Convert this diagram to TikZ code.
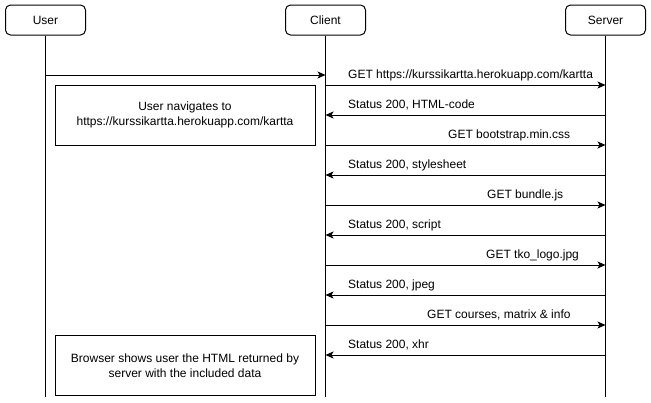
\documentclass[tikz,border=0pt]{standalone}
\usepackage{fontspec}
\setmainfont{Liberation Sans}
\usetikzlibrary{arrows.meta,positioning}
\tikzset{
  actor/.style={
      rectangle,
      draw,
      line width=1pt,
      rounded corners=5pt,
      minimum width=80pt,
      minimum height=30pt,
      inner sep=0pt
  },
  note/.style={
      rectangle,
      draw,
      line width=1pt,
      minimum width=260pt,
      minimum height=60pt,
      inner sep=0pt,
      align=center
  },
  msg/.style={-{Stealth[length=8pt,width=7pt,inset=2pt]}, line width=1pt},
  lbl/.style={anchor=base west, inner sep=0pt}
}

\begin{document}
\begin{tikzpicture}[x=1pt,y=-1pt,font=\fontsize{12}{15}\selectfont]
    \useasboundingbox (0,0) rectangle (651,402);
    % heads
    \node[actor] (user) at (45.5,20) {User};
    \node[actor] (client) at (325.5,20) {Client};
    \node[actor] (server) at (605.5,20) {Server};
    \coordinate (uend) at (45.5,397);
    \coordinate (cend) at (325.5,397);
    \coordinate (send) at (605.5,397);
    \draw[line width=1pt] (user) -- (uend);
    \draw[line width=1pt] (client) -- (cend);
    \draw[line width=1pt] (server) -- (send);
    % points on the lifelines
    \coordinate (u0) at (45.5,75);
    \coordinate (c0) at (325.5,75);
    \foreach \n/\y in {a/85,b/115,c/145,d/175,e/205,f/235,g/265,h/295,i/325,j/355} {
      \coordinate (c\n) at (325.5,\y);
      \coordinate (s\n) at (605.5,\y);
    }
    % notes
    \node[note] (navigate) at (185,115) {User navigates to\\https://kurssikartta.herokuapp.com/kartta};
    \node[note] (shows) at (185,365.5) {Browser shows user the HTML returned by\\server with the included data};
    % messages
    \draw[msg] (u0) -- (c0);
    \draw[msg] (ca) -- (sa);
    \node[lbl] (getpage) at (348,78.5) {GET https://kurssikartta.herokuapp.com/kartta};
    \draw[msg] (sb) -- (cb);
    \node[lbl] (html) at (348,108.5) {Status 200, HTML-code};
    \draw[msg] (cc) -- (sc);
    \node[lbl] (getcss) at (448,138.5) {GET bootstrap.min.css};
    \draw[msg] (sd) -- (cd);
    \node[lbl] (css) at (348,168.5) {Status 200, stylesheet};
    \draw[msg] (ce) -- (se);
    \node[lbl] (getjs) at (487,198.5) {GET bundle.js};
    \draw[msg] (sf) -- (cf);
    \node[lbl] (js) at (348,228.5) {Status 200, script};
    \draw[msg] (cg) -- (sg);
    \node[lbl] (getlogo) at (486,258.5) {GET tko\_logo.jpg};
    \draw[msg] (sh) -- (ch);
    \node[lbl] (logo) at (348,288.5) {Status 200, jpeg};
    \draw[msg] (ci) -- (si);
    \node[lbl] (getdata) at (427,318.5) {GET courses, matrix \& info};
    \draw[msg] (sj) -- (cj);
    \node[lbl] (data) at (348,348.5) {Status 200, xhr};
\end{tikzpicture}
\end{document}
